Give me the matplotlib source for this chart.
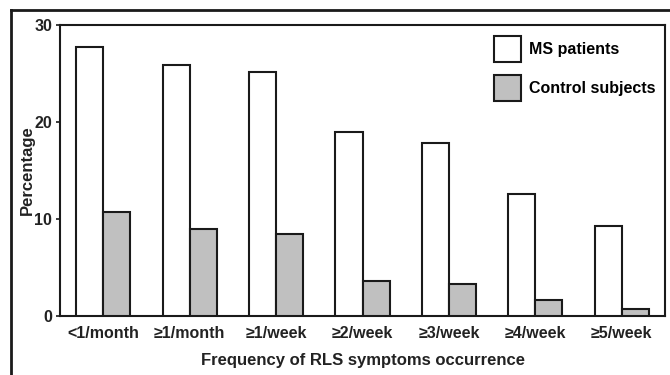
import matplotlib
matplotlib.use("Agg")
import matplotlib.pyplot as plt
from matplotlib.patches import Patch
from matplotlib.lines import Line2D
import numpy as np

categories = ["<1/month", "≥1/month", "≥1/week", "≥2/week", "≥3/week", "≥4/week", "≥5/week"]
ms_patients = [27.7, 25.9, 25.2, 19.0, 17.8, 12.6, 9.3]
control_subjects = [10.7, 9.0, 8.45, 3.6, 3.3, 1.7, 0.7]
yticks = [0, 10, 20, 30]

plt.rcParams['font.family'] = ['Liberation Sans', 'DejaVu Sans']
plt.rcParams['font.weight'] = 'bold'

W, H = 670, 375
fs = 11.5
fig = plt.figure(figsize=(W / 100, H / 100), dpi=100)
ax = fig.add_axes([60 / W, 1 - 316 / H, 605 / W, 291 / H])

x = np.arange(len(categories))
bw = 0.3125
edge = "#1a1a1a"
txt = "#222222"
ax.bar(x - bw / 2, ms_patients, bw, color="white", edgecolor=edge, linewidth=1.5, zorder=3)
ax.bar(x + bw / 2, control_subjects, bw, color="#c0c0c0", edgecolor=edge, linewidth=1.5, zorder=3)

ax.set_xlim(-0.5, len(categories) - 0.5)
ax.set_ylim(0, 30)
ax.set_yticks(yticks)
ax.set_xticks(x)
ax.set_xticklabels(categories, fontsize=fs, fontweight='bold', color=txt)
ax.tick_params(axis='x', length=0, pad=7)
ax.tick_params(axis='y', length=3, width=1.2, direction='out', labelsize=fs, pad=2.5, colors=edge)
for lbl in ax.get_yticklabels():
    lbl.set_fontweight('bold')
    lbl.set_color(txt)
for s in ax.spines.values():
    s.set_linewidth(1.5)
    s.set_color(edge)

ax.set_ylabel("Percentage", fontsize=12, fontweight='bold', color=txt, labelpad=0)
ax.set_xlabel("Frequency of RLS symptoms occurrence", fontsize=12, fontweight='bold', color=txt, labelpad=9)

handles = [Patch(facecolor="white", edgecolor=edge, linewidth=1.5),
           Patch(facecolor="#c0c0c0", edgecolor=edge, linewidth=1.5)]
fig.legend(handles, ["MS patients", "Control subjects"], loc="upper left",
           bbox_to_anchor=(486 / W, 1 - 28 / H), bbox_transform=fig.transFigure,
           frameon=False, borderpad=0, handlelength=1.7, handleheight=2.12,
           handletextpad=0.5, labelspacing=0.84, prop={'size': fs, 'weight': 'bold'})

# outer figure frame (top and left)
fig.add_artist(Line2D([11 / W, 1.0], [1 - 10 / H, 1 - 10 / H], transform=fig.transFigure, color=edge, linewidth=2))
fig.add_artist(Line2D([11 / W, 11 / W], [0.0, 1 - 10 / H], transform=fig.transFigure, color=edge, linewidth=2))

fig.savefig("out.png", dpi=100)
